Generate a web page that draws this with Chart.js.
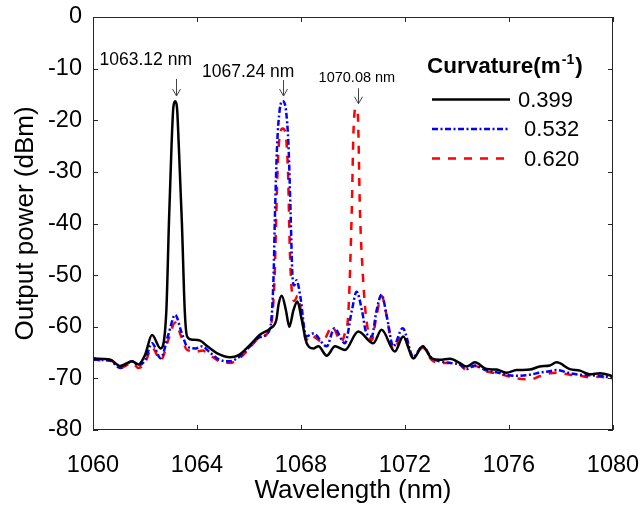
<!DOCTYPE html>
<html>
<head>
<meta charset="utf-8">
<script src="https://cdn.jsdelivr.net/npm/chart.js@4.4.1/dist/chart.umd.min.js"></script>
<style>
html, body { margin: 0; padding: 0; background: #fff; }
canvas { display: block; }
</style>
</head>
<body>
<canvas id="spectrum" width="644" height="509"></canvas>
<script>
const FONT = "'Liberation Sans', Arial, sans-serif";

// curvature 0.399 m^-1
const wavelength399 = [1060, 1060.66, 1061.05, 1061.5, 1061.75, 1062.0, 1062.27, 1062.6, 1062.82, 1062.92,
    1063.02, 1063.09, 1063.16, 1063.23, 1063.3, 1063.42, 1063.53, 1063.62, 1063.8, 1064.12,
    1064.4, 1064.76, 1065.27, 1065.6, 1066.04, 1066.43, 1066.82, 1067.05, 1067.14, 1067.26,
    1067.42, 1067.55, 1067.71, 1067.86, 1068.03, 1068.22, 1068.47, 1068.67, 1068.99, 1069.31,
    1069.69, 1070.2, 1070.78, 1071.1, 1071.61, 1071.93, 1072.32, 1072.68, 1073.02, 1073.34,
    1073.73, 1074.1, 1074.37, 1074.69, 1075.14, 1075.52, 1075.9, 1076.29, 1076.8, 1077.18,
    1077.57, 1077.83, 1078.34, 1078.73, 1079.11, 1079.5, 1080];
const power399 = [-66.2, -66.4, -67.6, -66.7, -67.3, -65.5, -61.6, -64.2, -57, -40,
    -25, -17.5, -16.3, -17.5, -25, -40, -57, -61.9, -62.5, -62.7,
    -63.8, -65.1, -65.9, -65.5, -63.5, -61.5, -60.3, -58.7, -55.6, -54.0,
    -56.8, -60.0, -56.8, -55.1, -58.7, -63.2, -64.2, -63.8, -65.6, -63.8,
    -64.5, -60.9, -63.2, -60.6, -64.8, -61.9, -66.1, -63.8, -66.1, -66.4,
    -66.2, -67.0, -67.7, -66.9, -68.2, -68.3, -68.9, -68.4, -68.3, -67.7,
    -67.5, -66.9, -68.2, -68.5, -69.2, -69.0, -69.6];

// curvature 0.532 m^-1
const wavelength532 = [1060, 1060.66, 1061.05, 1061.5, 1061.75, 1062.0, 1062.27, 1062.6, 1062.9, 1063.16,
    1063.4, 1063.62, 1063.95, 1064.2, 1064.5, 1064.86, 1065.27, 1065.7, 1066.04, 1066.43,
    1066.8, 1066.94, 1067.0, 1067.08, 1067.18, 1067.3, 1067.42, 1067.52, 1067.6, 1067.67,
    1067.74, 1067.83, 1067.97, 1068.2, 1068.47, 1068.99, 1069.28, 1069.69, 1069.95, 1070.14,
    1070.35, 1070.5, 1070.72, 1070.9, 1071.1, 1071.3, 1071.55, 1071.91, 1072.32, 1072.68,
    1073.02, 1073.34, 1073.73, 1074.1, 1074.37, 1074.69, 1075.14, 1075.52, 1075.9, 1076.29,
    1076.8, 1077.18, 1077.57, 1077.83, 1078.34, 1078.73, 1079.11, 1079.5, 1080];
const power532 = [-66.4, -66.6, -68.0, -66.7, -67.5, -66.5, -63.2, -66.1, -61.5, -57.7,
    -61.0, -63.8, -64.2, -63.8, -65.0, -66.4, -66.7, -65.5, -63.8, -62.0,
    -60.5, -51, -38, -25, -18, -16.3, -18, -25, -38, -50,
    -52, -51, -54, -61.9, -61.3, -63.8, -60.3, -63.2, -57, -53.2,
    -57, -61, -61.9, -57, -53.8, -58, -63.8, -60.3, -65.8, -63.8,
    -66.0, -66.7, -67.0, -67.3, -68.2, -67.5, -68.5, -68.8, -69.3, -69.5,
    -69.3, -68.9, -68.6, -68.4, -69.0, -69.3, -69.4, -69.5, -70.0];

// curvature 0.620 m^-1
const wavelength620 = [1060, 1060.4, 1060.66, 1061.05, 1061.5, 1061.75, 1062.0, 1062.27, 1062.6, 1062.9,
    1063.16, 1063.4, 1063.62, 1064.0, 1064.2, 1064.5, 1064.86, 1065.27, 1065.7, 1066.04,
    1066.43, 1066.8, 1066.98, 1067.05, 1067.12, 1067.2, 1067.3, 1067.4, 1067.5, 1067.57,
    1067.63, 1067.75, 1067.87, 1068.0, 1068.2, 1068.35, 1068.82, 1069.2, 1069.55, 1069.7,
    1069.82, 1069.95, 1070.02, 1070.1, 1070.18, 1070.27, 1070.38, 1070.5, 1070.72, 1070.9,
    1071.1, 1071.3, 1071.55, 1071.91, 1072.32, 1072.68, 1073.02, 1073.34, 1073.73, 1074.1,
    1074.37, 1074.69, 1075.14, 1075.52, 1075.9, 1076.29, 1076.8, 1077.18, 1077.57, 1077.83,
    1078.34, 1078.73, 1079.11, 1079.5, 1080];
const power620 = [-66.0, -66.6, -66.4, -68.0, -67.0, -68.0, -67.0, -64.0, -66.5, -62.5,
    -59.2, -62.0, -64.5, -64.8, -64.6, -65.5, -66.7, -67.0, -65.8, -64.0,
    -62.0, -60.5, -51, -38, -27, -22.5, -21.6, -22.5, -30, -45,
    -52, -55, -54, -57, -62.6, -61.6, -62.9, -60.0, -62.9, -61,
    -57.4, -38, -22, -17.7, -18.5, -38, -50, -58, -62.6, -58,
    -54.0, -58, -64.5, -61.6, -66.1, -64.0, -66.4, -67.0, -67.0, -67.3,
    -68.4, -67.6, -68.7, -69.0, -69.5, -70.0, -70.2, -69.6, -69.0, -68.9,
    -69.3, -69.5, -69.8, -69.7, -70.2];

const seriesLabels = ['0.399', ' 0.532', ' 0.620'];
const peakLabels = ['1063.12 nm', '1067.24 nm', '1070.08 nm'];

// peak notes: text centre and arrow, in data units
const peakNotes = [
    { textX: 1062.03, textY: -8.4, size: 17.5, arrowX: 1063.2, from: -12.0, to: -15.3 },
    { textX: 1065.97, textY: -10.7, size: 17.5, arrowX: 1067.32, from: -12.2, to: -15.3 },
    { textX: 1070.15, textY: -11.9, size: 14.5, arrowX: 1070.18, from: -13.8, to: -16.8 },
];

const toPoints = (xs, ys) => xs.map((x, i) => ({ x: x, y: ys[i] }));

const frameTicks = {
    id: 'frameTicks',
    afterDraw(chart) {
        const { ctx, chartArea: a, scales } = chart;
        ctx.save();
        ctx.strokeStyle = '#262626';
        ctx.lineWidth = 1;
        ctx.strokeRect(a.left + 0.5, a.top + 0.5, a.right - a.left - 1, a.bottom - a.top - 1);
        ctx.beginPath();
        scales.x.ticks.forEach((t) => {
            const px = Math.round(scales.x.getPixelForValue(t.value)) + 0.5;
            ctx.moveTo(px, a.bottom); ctx.lineTo(px, a.bottom - 5);
            ctx.moveTo(px, a.top); ctx.lineTo(px, a.top + 5);
        });
        scales.y.ticks.forEach((t) => {
            const py = Math.round(scales.y.getPixelForValue(t.value)) + 0.5;
            ctx.moveTo(a.left, py); ctx.lineTo(a.left + 5, py);
            ctx.moveTo(a.right, py); ctx.lineTo(a.right - 5, py);
        });
        ctx.stroke();
        ctx.restore();
    },
};

const peakArrows = {
    id: 'peakArrows',
    afterDraw(chart) {
        const { ctx, scales } = chart;
        ctx.save();
        peakNotes.forEach((n, i) => {
            ctx.fillStyle = '#000';
            ctx.font = n.size + 'px ' + FONT;
            ctx.textAlign = 'center';
            ctx.textBaseline = 'middle';
            ctx.fillText(peakLabels[i], scales.x.getPixelForValue(n.textX), scales.y.getPixelForValue(n.textY));

            const ax = Math.round(scales.x.getPixelForValue(n.arrowX)) + 0.5;
            const y1 = scales.y.getPixelForValue(n.from);
            const y2 = scales.y.getPixelForValue(n.to);
            ctx.strokeStyle = '#444';
            ctx.lineWidth = 1;
            ctx.beginPath();
            ctx.moveTo(ax, y1); ctx.lineTo(ax, y2);
            ctx.moveTo(ax - 4, y2 - 7); ctx.lineTo(ax, y2); ctx.lineTo(ax + 4, y2 - 7);
            ctx.stroke();
        });
        ctx.restore();
    },
};

const curvatureLegend = {
    id: 'curvatureLegend',
    afterDraw(chart) {
        const { ctx } = chart;
        ctx.save();
        ctx.fillStyle = '#000';
        ctx.textBaseline = 'middle';
        ctx.textAlign = 'left';
        let x = 427;
        const ty = 67;
        ctx.font = 'bold 22.5px ' + FONT;
        ctx.fillText('Curvature(m', x, ty);
        x += ctx.measureText('Curvature(m').width;
        ctx.font = 'bold 14px ' + FONT;
        ctx.fillText('-1', x + 1, ty - 7);
        x += ctx.measureText('-1').width + 2;
        ctx.font = 'bold 22.5px ' + FONT;
        ctx.fillText(')', x, ty);

        ctx.font = '22px ' + FONT;
        chart.data.datasets.forEach((ds, i) => {
            const y = 99.5 + i * 29.5;
            ctx.strokeStyle = ds.borderColor;
            ctx.lineWidth = ds.borderWidth;
            ctx.setLineDash(ds.borderDash || []);
            ctx.beginPath();
            ctx.moveTo(432, y); ctx.lineTo(510, y);
            ctx.stroke();
            ctx.setLineDash([]);
            ctx.fillText(ds.label, 518, y + 1);
        });
        ctx.restore();
    },
};

new Chart(document.getElementById('spectrum'), {
    type: 'line',
    data: {
        datasets: [
            {
                label: seriesLabels[0],
                data: toPoints(wavelength399, power399),
                borderColor: '#000000',
                borderWidth: 2.5,
            },
            {
                label: seriesLabels[1],
                data: toPoints(wavelength532, power532),
                borderColor: '#0000ff',
                borderWidth: 2.5,
                borderDash: [6, 2.5, 2, 2.5],
            },
            {
                label: seriesLabels[2],
                data: toPoints(wavelength620, power620),
                borderColor: '#ff0000',
                borderWidth: 2.5,
                borderDash: [8, 8],
            },
        ],
    },
    plugins: [frameTicks, peakArrows, curvatureLegend],
    options: {
        responsive: false,
        animation: false,
        events: [],
        layout: { padding: { top: 17, right: 31, left: 0, bottom: 0 } },
        elements: {
            point: { radius: 0 },
            line: { cubicInterpolationMode: 'monotone', fill: false },
        },
        plugins: {
            legend: { display: false },
            tooltip: { enabled: false },
        },
        scales: {
            x: {
                type: 'linear',
                min: 1060,
                max: 1080,
                grid: { display: false, drawTicks: false },
                border: { display: false },
                ticks: {
                    stepSize: 4,
                    padding: 21,
                    color: '#000',
                    font: { family: FONT, size: 23.5 },
                    maxRotation: 0,
                    callback: (v) => String(v),
                },
                title: {
                    display: true,
                    text: 'Wavelength (nm)',
                    color: '#000',
                    font: { family: FONT, size: 26 },
                    padding: { top: 0, bottom: 3 },
                },
                afterFit(scale) {
                    scale.height = 79;
                    scale.paddingLeft = 0;
                    scale.paddingRight = 0;
                },
            },
            y: {
                min: -80,
                max: 0,
                grid: { display: false, drawTicks: false },
                border: { display: false },
                ticks: {
                    stepSize: 10,
                    padding: 11,
                    color: '#000',
                    font: { family: FONT, size: 23.5 },
                },
                title: {
                    display: true,
                    text: 'Output power (dBm)',
                    color: '#000',
                    font: { family: FONT, size: 26 },
                    padding: { top: 10, bottom: 0 },
                },
                afterFit(scale) {
                    scale.width = 93;
                    scale.paddingTop = 0;
                    scale.paddingBottom = 0;
                },
            },
        },
    },
});
</script>
</body>
</html>
